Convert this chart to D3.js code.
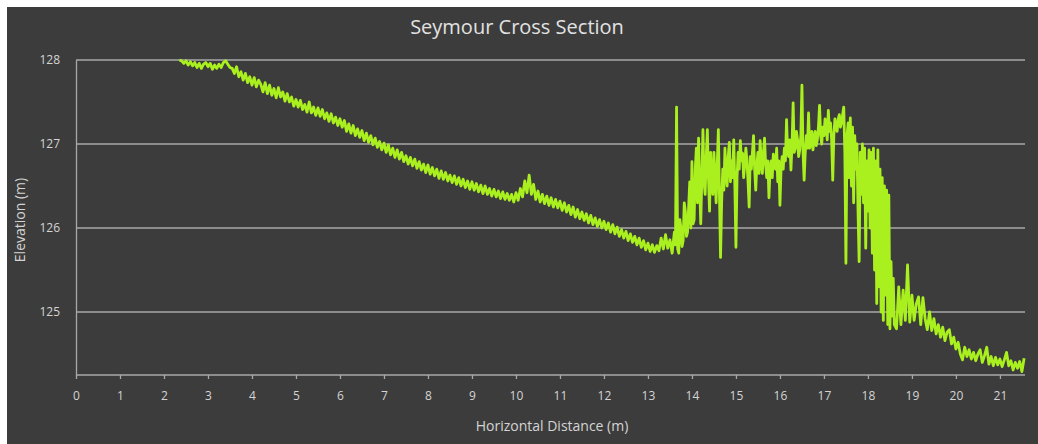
<!DOCTYPE html>
<html>
<head>
<meta charset="utf-8">
<script src="https://cdn.jsdelivr.net/npm/d3@7"></script>
<style>
  html, body { margin: 0; padding: 0; background: #ffffff; }
  svg { display: block; }
</style>
</head>
<body>
<svg id="chart" width="1038" height="444"></svg>
<script>
// ---------- DATA ----------
const chartTitle = "Seymour Cross Section";
const xAxisTitle = "Horizontal Distance (m)";
const yAxisTitle = "Elevation (m)";
const xTickValues = [0,1,2,3,4,5,6,7,8,9,10,11,12,13,14,15,16,17,18,19,20,21];
const yTickValues = [125,126,127,128];

// distances (m)
const distance = [
  2.35,2.40,2.45,2.50,2.55,2.60,2.65,2.70,2.75,2.80,2.85,2.90,2.95,3.00,3.05,3.10,3.15,3.20,3.25,3.30,3.35,3.40,3.45,3.50,
  3.55,3.60,3.65,3.70,3.75,3.80,3.85,3.90,3.95,4.00,4.05,4.10,4.15,4.20,4.25,4.30,4.35,4.40,4.45,4.50,
  4.55,4.60,4.65,4.70,4.75,4.80,4.85,4.90,4.95,5.00,5.05,5.10,5.15,5.20,5.25,5.30,5.35,5.40,5.45,5.50,
  5.55,5.60,5.65,5.70,5.75,5.80,5.85,5.90,5.95,6.00,6.05,6.10,6.15,6.20,6.25,6.30,6.35,6.40,6.45,6.50,
  6.55,6.60,6.65,6.70,6.75,6.80,6.85,6.90,6.95,7.00,7.05,7.10,7.15,7.20,7.25,7.30,7.35,7.40,7.45,7.50,
  7.55,7.60,7.65,7.70,7.75,7.80,7.85,7.90,7.95,8.00,8.05,8.10,8.15,8.20,8.25,8.30,8.35,8.40,8.45,8.50,
  8.55,8.60,8.65,8.70,8.75,8.80,8.85,8.90,8.95,9.00,9.05,9.10,9.15,9.20,9.25,9.30,9.35,9.40,9.45,9.50,
  9.55,9.60,9.65,9.70,9.75,9.80,9.85,9.90,9.95,10.00,10.05,10.10,10.15,10.20,10.25,10.30,10.35,10.40,10.45,10.50,
  10.55,10.60,10.65,10.70,10.75,10.80,10.85,10.90,10.95,11.00,11.05,11.10,11.15,11.20,11.25,11.30,11.35,11.40,11.45,11.50,
  11.55,11.60,11.65,11.70,11.75,11.80,11.85,11.90,11.95,12.00,12.05,12.10,12.15,12.20,12.25,12.30,12.35,12.40,12.45,12.50,
  12.55,12.60,12.65,12.70,12.75,12.80,12.85,12.90,12.95,13.00,13.05,13.10,13.15,13.20,13.25,13.30,13.35,13.40,13.45,13.50,
  13.55,13.60,
  13.625,13.650,13.675,13.700,13.725,13.750,13.775,13.800,13.825,13.850,13.875,13.900,13.925,13.950,13.975,14.000,
  14.025,14.050,14.075,14.100,14.125,14.150,14.175,14.200,14.225,14.250,14.275,14.300,14.325,14.350,14.375,14.400,
  14.425,14.450,14.475,14.500,14.525,14.550,14.575,14.600,14.625,14.650,14.675,14.700,14.725,14.750,14.775,14.800,
  14.825,14.850,14.875,14.900,14.925,14.950,14.975,15.000,15.025,15.050,15.075,15.100,15.125,15.150,15.175,15.200,
  15.225,15.250,15.275,15.300,15.325,15.350,15.375,15.400,15.425,15.450,15.475,15.500,15.525,15.550,15.575,15.600,
  15.625,15.650,15.675,15.700,15.725,15.750,15.775,15.800,15.825,15.850,15.875,15.900,15.925,15.950,15.975,16.000,
  16.025,16.050,16.075,16.100,16.125,16.150,16.175,16.200,16.225,16.250,16.275,16.300,16.325,16.350,16.375,16.400,
  16.425,16.450,16.475,16.500,16.525,16.550,16.575,16.600,16.625,16.650,16.675,16.700,16.725,16.750,16.775,16.800,
  16.825,16.850,16.875,16.900,16.925,16.950,16.975,17.000,17.025,17.050,17.075,17.100,17.125,17.150,17.175,17.200,
  17.225,17.250,17.275,17.300,17.325,17.350,17.375,17.400,17.425,
  17.450,17.475,17.500,17.525,17.550,17.575,17.600,17.625,17.650,17.675,17.700,17.725,17.750,17.775,17.800,17.825,17.850,17.875,17.900,17.925,
  17.950,17.975,18.000,18.025,18.050,18.075,18.100,18.125,18.150,18.175,18.200,18.225,18.250,18.275,18.300,18.325,18.350,18.375,18.400,18.425,
  18.450,18.475,18.500,18.525,18.550,18.575,18.600,
  18.65,18.70,18.75,18.80,18.85,18.90,18.95,19.00,19.05,19.10,19.15,19.20,19.25,19.30,19.35,19.40,19.45,19.50,
  19.55,19.60,19.65,19.70,19.75,19.80,19.85,19.90,19.95,20.00,20.05,20.10,20.15,20.20,20.25,20.30,20.35,20.40,20.45,20.50,
  20.55,20.60,20.65,20.70,20.75,20.80,20.85,20.90,20.95,21.00,21.05,21.10,21.15,21.20,21.25,21.30,21.35,21.40,21.45,21.50,21.55
];

// elevations (m)
const elevation = [
  128.00,127.99,127.96,127.99,127.94,127.98,127.93,127.97,127.91,127.96,127.90,127.95,127.97,127.92,127.96,127.89,127.94,127.90,127.95,127.91,127.97,127.99,127.95,127.91,
  127.90,127.84,127.92,127.80,127.86,127.76,127.84,127.73,127.80,127.70,127.79,127.68,127.76,127.71,127.62,127.73,127.60,127.70,127.58,127.66,
  127.55,127.67,127.56,127.62,127.51,127.60,127.50,127.56,127.45,127.53,127.44,127.52,127.41,127.47,127.38,127.50,127.37,127.44,127.34,127.43,
  127.33,127.41,127.30,127.37,127.27,127.36,127.25,127.32,127.22,127.30,127.20,127.28,127.15,127.24,127.13,127.22,127.10,127.18,127.08,127.16,
  127.04,127.13,127.02,127.10,126.99,127.07,126.96,127.03,126.93,127.01,126.90,126.99,126.87,126.95,126.84,126.93,126.82,126.90,126.79,126.86,
  126.76,126.84,126.74,126.82,126.71,126.79,126.69,126.76,126.66,126.75,126.64,126.72,126.62,126.70,126.59,126.68,126.58,126.66,126.56,126.63,
  126.54,126.62,126.52,126.60,126.50,126.58,126.48,126.56,126.46,126.55,126.45,126.53,126.43,126.51,126.41,126.50,126.40,126.47,126.38,126.46,
  126.37,126.44,126.35,126.43,126.34,126.41,126.33,126.40,126.31,126.42,126.33,126.47,126.37,126.56,126.42,126.63,126.40,126.52,126.34,126.44,
  126.31,126.40,126.29,126.38,126.27,126.36,126.25,126.34,126.24,126.32,126.21,126.30,126.19,126.27,126.16,126.25,126.13,126.22,126.11,126.19,
  126.09,126.17,126.06,126.15,126.04,126.12,126.02,126.10,126.00,126.08,125.98,126.06,125.95,126.04,125.93,126.01,125.90,125.98,125.88,125.96,
  125.85,125.93,125.83,125.90,125.80,125.88,125.77,125.85,125.74,125.82,125.72,125.80,125.71,125.79,125.73,125.88,125.75,125.92,125.76,125.86,
  125.70,125.95,
  125.80,127.44,125.75,125.70,126.10,126.00,125.78,125.85,126.30,126.20,125.90,125.95,126.25,126.55,126.00,126.79,
  126.05,126.10,126.70,126.95,126.30,127.07,126.50,126.05,126.60,127.17,126.55,126.40,126.85,127.17,126.60,126.20,
  126.90,126.57,126.40,126.90,126.60,126.30,126.75,127.17,126.40,125.65,126.30,126.70,126.45,126.95,126.65,126.50,
  126.85,127.02,126.55,126.80,126.60,127.05,126.50,125.77,126.60,126.90,126.70,127.04,126.80,126.89,126.60,126.75,
  126.95,126.80,126.55,126.25,126.85,126.70,126.90,127.10,126.70,126.45,126.75,126.90,126.65,127.04,126.80,126.65,
  126.90,127.07,126.75,126.60,126.80,126.36,126.70,126.80,126.60,126.88,126.75,126.70,126.95,126.55,126.80,126.27,
  126.70,126.85,126.70,126.95,126.80,127.29,126.90,126.85,127.05,126.69,127.00,127.49,126.90,126.95,127.15,127.05,
  126.85,126.93,127.10,127.70,126.90,126.57,126.90,127.10,126.95,127.37,126.95,127.00,127.15,126.93,127.05,127.15,
  126.98,127.05,127.20,127.46,127.10,127.00,127.20,127.10,127.30,127.20,127.05,127.40,127.15,127.25,127.05,126.57,
  127.10,127.30,127.20,127.15,127.30,127.35,127.20,127.25,127.35,
  127.44,126.90,125.58,127.10,127.25,126.60,127.31,126.50,127.20,126.30,127.10,126.70,127.00,126.20,125.60,126.90,126.40,127.00,126.30,126.95,
  125.76,126.80,126.20,126.93,126.00,126.90,125.70,126.95,125.50,126.80,125.10,126.93,125.30,126.70,125.00,126.60,124.90,126.50,125.20,126.45,
  124.85,126.39,124.80,125.60,124.95,125.40,124.85,
  124.80,125.30,124.85,125.26,124.90,125.56,124.88,125.20,124.90,125.10,125.18,124.85,125.17,124.92,124.79,125.00,124.78,124.92,
  124.74,124.85,124.70,124.82,124.66,124.76,124.79,124.62,124.70,124.56,124.64,124.50,124.43,124.58,124.47,124.55,124.44,124.52,124.42,124.50,
  124.55,124.40,124.48,124.58,124.38,124.47,124.36,124.46,124.37,124.44,124.35,124.43,124.52,124.36,124.42,124.31,124.40,124.33,124.41,124.29,124.45
];

// ---------- CHART ----------
const W = 1038, H = 444;
const svg = d3.select("#chart");
const plotLeft = 76, plotRight = 1025, plotTop = 60, plotBottom = 375;

// background
svg.append("rect").attr("x", 0).attr("y", 0).attr("width", W).attr("height", H).attr("fill", "#ffffff");
svg.append("rect").attr("x", 7).attr("y", 7).attr("width", W - 7).attr("height", H - 7).attr("fill", "#3c3c3c");

const x = d3.scaleLinear().domain([0, 21.57]).range([plotLeft, plotRight]);
const y = d3.scaleLinear().domain([124.25, 128]).range([plotBottom, plotTop]);

const gridColor = "#a8a8a8";
const textColor = "#d4d4d4";
const font = "'Open Sans', 'Noto Sans', sans-serif";

// horizontal gridlines
svg.append("g").selectAll("line").data(yTickValues).join("line")
  .attr("x1", plotLeft).attr("x2", plotRight)
  .attr("y1", d => y(d)).attr("y2", d => y(d))
  .attr("stroke", gridColor).attr("stroke-width", 1.3);

// y axis
const yAxis = d3.axisLeft(y).tickValues(yTickValues).tickSize(0).tickPadding(16).tickFormat(d3.format("d"));
const gy = svg.append("g").attr("transform", `translate(${plotLeft},0)`).call(yAxis);
gy.select(".domain").attr("stroke", gridColor).attr("stroke-width", 1.3);
gy.selectAll("text").attr("fill", textColor).style("font-family", font).style("font-size", "12px");

// x axis
const xAxis = d3.axisBottom(x).tickValues(xTickValues).tickSize(4).tickPadding(12).tickFormat(d3.format("d"));
const gx = svg.append("g").attr("transform", `translate(0,${plotBottom})`).call(xAxis);
gx.select(".domain").attr("stroke", gridColor).attr("stroke-width", 1.3).attr("d", `M${plotLeft},0H${plotRight}`);
gx.selectAll(".tick line").attr("stroke", gridColor).attr("stroke-width", 1.3);
gx.selectAll("text").attr("fill", textColor).style("font-family", font).style("font-size", "12px");

// data line
const pts = distance.map((d, i) => [d, elevation[i]]);
const line = d3.line().x(d => x(d[0])).y(d => y(d[1]));
svg.append("path").datum(pts)
  .attr("d", line)
  .attr("fill", "none")
  .attr("stroke", "#aaf01e")
  .attr("stroke-width", 2.8)
  .attr("stroke-linejoin", "round");

// title
svg.append("text").attr("x", 517).attr("y", 34).attr("text-anchor", "middle")
  .attr("fill", "#e2e2e2").style("font-family", font).style("font-size", "20px")
  .text(chartTitle);

// axis titles
svg.append("text").attr("x", 552).attr("y", 431).attr("text-anchor", "middle")
  .attr("fill", textColor).style("font-family", font).style("font-size", "14px")
  .text(xAxisTitle);
svg.append("text").attr("transform", "translate(25,220) rotate(-90)").attr("text-anchor", "middle")
  .attr("fill", textColor).style("font-family", font).style("font-size", "14px")
  .text(yAxisTitle);
</script>
</body>
</html>
